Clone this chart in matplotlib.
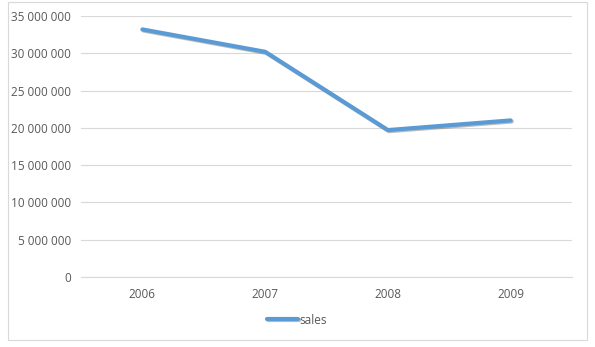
import matplotlib.pyplot as plt
import matplotlib.patheffects as pe
from matplotlib.patches import Rectangle
from matplotlib.ticker import FuncFormatter, MultipleLocator

# data
years = ['2006', '2007', '2008', '2009']
sales = [33200000, 30200000, 19700000, 21000000]

plt.rcParams['font.family'] = ['Open Sans', 'DejaVu Sans']

fig = plt.figure(figsize=(5.95, 3.47), dpi=100)
ax = fig.add_axes([81 / 595, 1 - 277 / 347, (572 - 81) / 595, (277 - 16) / 347])

# chart border
fig.patches.append(Rectangle((8 / 595, 1 - 340 / 347), 579 / 595, 338 / 347,
                             transform=fig.transFigure, fill=False,
                             edgecolor='#d9d9d9', linewidth=0.8))

x = range(len(years))
ax.plot(x, sales, color='#5b9bd5', linewidth=3.0, solid_capstyle='round',
        solid_joinstyle='round', label='sales',
        path_effects=[pe.SimpleLineShadow(offset=(0.8, -0.8), alpha=0.35, shadow_color='#404040'),
                      pe.Normal()])

ax.set_xlim(-0.5, len(years) - 0.5)
ax.set_ylim(0, 35000000)
ax.yaxis.set_major_locator(MultipleLocator(5000000))
ax.yaxis.set_major_formatter(FuncFormatter(lambda v, p: f'{int(v):,}'.replace(',', ' ')))
ax.set_xticks(list(x))
ax.set_xticklabels(years)

ax.grid(axis='y', color='#d9d9d9', linewidth=0.8)
ax.set_axisbelow(True)
for s in ['top', 'right', 'left']:
    ax.spines[s].set_visible(False)
ax.spines['bottom'].set_color('#d9d9d9')
ax.spines['bottom'].set_linewidth(0.8)
ax.tick_params(length=0, labelsize=8.5, colors='#595959')
ax.tick_params(axis='y', pad=7)
ax.tick_params(axis='x', pad=8)

leg = fig.legend(loc='center', bbox_to_anchor=(297 / 595, 1 - 320 / 347), frameon=False,
                 fontsize=8.5, handlelength=2.6, handletextpad=0.1)
for t in leg.get_texts():
    t.set_color('#595959')

fig.savefig('out.png', dpi=100)
